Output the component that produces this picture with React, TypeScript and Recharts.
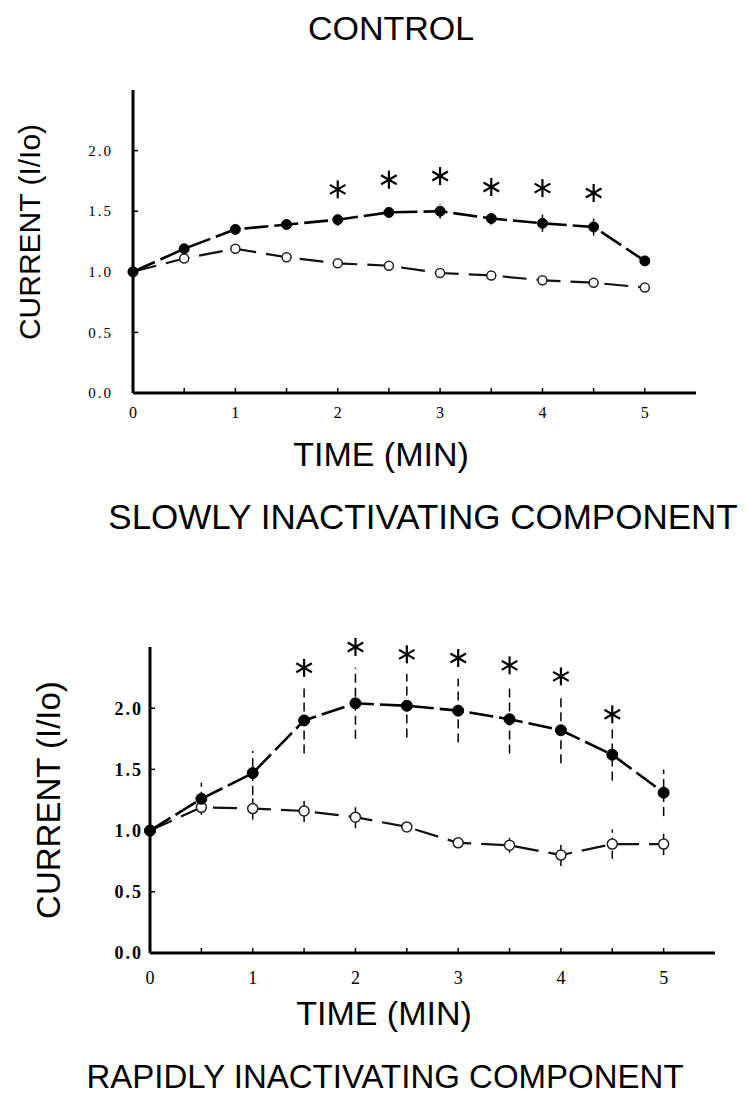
import React from 'react';
import { LineChart, Line, XAxis, YAxis, ErrorBar } from 'recharts';

// ---- data ----
const times = [0, 0.5, 1, 1.5, 2, 2.5, 3, 3.5, 4, 4.5, 5];
const xTicks = [0, 0.5, 1, 1.5, 2, 2.5, 3, 3.5, 4, 4.5, 5];
const yTicks = [0, 0.5, 1.0, 1.5, 2.0];

// Top panel: slowly inactivating component
const slowTreated = [1.0, 1.19, 1.35, 1.39, 1.43, 1.49, 1.5, 1.44, 1.4, 1.37, 1.09];
const slowTreatedErr = [0, 0.03, 0.03, 0.03, 0.05, 0.04, 0.06, 0.05, 0.07, 0.07, 0.03];
const slowControl = [1.0, 1.11, 1.19, 1.12, 1.07, 1.05, 0.99, 0.97, 0.93, 0.91, 0.87];
const slowControlErr = [0, 0.03, 0.03, 0.02, 0.02, 0.04, 0.02, 0.02, 0.03, 0.02, 0.02];
const slowStars = [null, null, null, null, 1.68, 1.76, 1.79, 1.7, 1.69, 1.65, null];

// Bottom panel: rapidly inactivating component
const rapidTreated = [1.0, 1.26, 1.47, 1.9, 2.04, 2.02, 1.98, 1.91, 1.82, 1.62, 1.31];
const rapidTreatedErr = [0, 0.13, 0.18, 0.27, 0.29, 0.26, 0.26, 0.28, 0.27, 0.21, 0.19];
const rapidControl = [1.0, 1.19, 1.18, 1.16, 1.11, 1.03, 0.9, 0.88, 0.8, 0.89, 0.89];
const rapidControlErr = [0, 0.05, 0.09, 0.09, 0.09, 0.03, 0.03, 0.06, 0.09, 0.12, 0.09];
const rapidStars = [null, null, null, 2.33, 2.5, 2.44, 2.41, 2.35, 2.26, 1.95, null];

const buildRows = (treated: number[], tErr: number[], control: number[], cErr: number[], stars: (number | null)[]) =>
  times.map((t, i) => ({
    t,
    treated: treated[i],
    treatedErr: tErr[i],
    control: control[i],
    controlErr: cErr[i],
    star: stars[i],
  }));

const slowRows = buildRows(slowTreated, slowTreatedErr, slowControl, slowControlErr, slowStars);
const rapidRows = buildRows(rapidTreated, rapidTreatedErr, rapidControl, rapidControlErr, rapidStars);

const SERIF = '"Liberation Serif", "DejaVu Serif", serif';
const SANS = '"Liberation Sans", Arial, sans-serif';

const filledDot = (r: number) => (p: any) => {
  if (p.cx == null || p.cy == null || p.value == null) return <g key={p.key ?? p.index} />;
  return <circle key={p.key ?? p.index} cx={p.cx} cy={p.cy} r={r} fill="#000" stroke="#000" />;
};
const openDot = (r: number) => (p: any) => {
  if (p.cx == null || p.cy == null || p.value == null) return <g key={p.key ?? p.index} />;
  return <circle key={p.key ?? p.index} cx={p.cx} cy={p.cy} r={r} fill="#fff" stroke="#222" strokeWidth={1.5} />;
};
const starDot = (p: any) => {
  if (p.cx == null || p.cy == null || p.value == null || isNaN(p.cy)) return <g key={p.key ?? p.index} />;
  const L = 9;
  const lines = [90, 30, 150].map((a) => {
    const rad = (a * Math.PI) / 180;
    const dx = Math.cos(rad) * L;
    const dy = Math.sin(rad) * L;
    return <line key={a} x1={p.cx - dx} y1={p.cy - dy} x2={p.cx + dx} y2={p.cy + dy} stroke="#000" strokeWidth={2.2} />;
  });
  return <g key={p.key ?? p.index}>{lines}</g>;
};

const makeXTick = (fs: number, dy: number) => (p: any) => {
  const v = p.payload.value;
  const isInt = Math.abs(v - Math.round(v)) < 1e-9;
  return (
    <g>
      <line x1={p.x} x2={p.x} y1={p.y} y2={p.y - 5} stroke="#000" strokeWidth={1.5} />
      {isInt && (
        <text x={p.x} y={p.y + dy} textAnchor="middle" fontFamily={SERIF} fontSize={fs} fill="#000">
          {String(v)}
        </text>
      )}
    </g>
  );
};
const makeYTick = (fs: number, gap: number, bold: boolean, spacing: number) => (p: any) => {
  const v = p.payload.value;
  return (
    <g>
      <line x1={p.x} x2={p.x + 5} y1={p.y} y2={p.y} stroke="#000" strokeWidth={1.5} />
      <text
        x={p.x - gap}
        y={p.y + fs * 0.35}
        textAnchor="end"
        fontFamily={SERIF}
        fontSize={fs}
        fontWeight={bold ? 'bold' : 'normal'}
        letterSpacing={spacing}
        fill="#000"
      >
        {v.toFixed(1)}
      </text>
    </g>
  );
};

type PanelProps = {
  rows: any[];
  top: number;
  margin: { top: number; right: number; bottom: number; left: number };
  xfs: number;
  xdy: number;
  yfs: number;
  ygap: number;
  ybold: boolean;
  yspace: number;
  dotR: number;
};

const Panel = ({ rows, top, margin, xfs, xdy, yfs, ygap, ybold, yspace, dotR }: PanelProps) => (
  <div style={{ position: 'absolute', left: 0, top, width: 749, height: 440 }}>
    <LineChart width={749} height={440} data={rows} margin={margin}>
      <XAxis
        dataKey="t"
        type="number"
        domain={[0, 5.5]}
        ticks={xTicks}
        interval={0}
        height={30}
        tickSize={0}
        tickMargin={0}
        tickLine={false}
        axisLine={{ stroke: '#000', strokeWidth: 3 }}
        tick={makeXTick(xfs, xdy)}
        allowDecimals
      />
      <YAxis
        type="number"
        domain={[0, 2.5]}
        ticks={yTicks}
        interval={0}
        width={60}
        tickSize={0}
        tickMargin={0}
        tickLine={false}
        axisLine={{ stroke: '#000', strokeWidth: 3 }}
        tick={makeYTick(yfs, ygap, ybold, yspace)}
      />
      <Line
        dataKey="control"
        stroke="#111"
        strokeWidth={2.2}
        strokeDasharray="24 10"
        dot={openDot(dotR - 0.5)}
        activeDot={false}
        isAnimationActive={false}
      >
        <ErrorBar dataKey="controlErr" direction="y" width={0} stroke="#000" strokeWidth={1.5} strokeDasharray="8 5" />
      </Line>
      <Line
        dataKey="treated"
        stroke="#000"
        strokeWidth={2.6}
        strokeDasharray="24 6"
        dot={filledDot(dotR)}
        activeDot={false}
        isAnimationActive={false}
      >
        <ErrorBar dataKey="treatedErr" direction="y" width={0} stroke="#000" strokeWidth={1.5} strokeDasharray="9 5" />
      </Line>
      <Line
        dataKey="star"
        stroke="none"
        dot={starDot}
        activeDot={false}
        isAnimationActive={false}
        legendType="none"
      />
    </LineChart>
  </div>
);

const textStyle = (x: number, y: number, fs: number, rotate = false): React.CSSProperties => ({
  position: 'absolute',
  left: x,
  top: y,
  transform: `translate(-50%, -50%)${rotate ? ' rotate(-90deg)' : ''}`,
  fontFamily: SANS,
  fontSize: fs,
  color: '#000',
  whiteSpace: 'nowrap',
  lineHeight: 1,
});

export default function App() {
  return (
    <div style={{ position: 'absolute', left: 0, top: 0, width: 749, height: 1099, background: '#fff', overflow: 'hidden' }}>
      <div style={textStyle(391, 28, 34)}>CONTROL</div>
      <Panel
        rows={slowRows}
        top={0}
        margin={{ top: 90, right: 53, bottom: 17, left: 73 }}
        xfs={16}
        xdy={25}
        yfs={15}
        ygap={20}
        ybold={false}
        yspace={2}
        dotR={5}
      />
      <div style={textStyle(30, 232, 30, true)}>CURRENT (I/Io)</div>
      <div style={textStyle(381, 454, 34)}>TIME (MIN)</div>
      <div style={textStyle(423, 516, 35)}>SLOWLY INACTIVATING COMPONENT</div>

      <Panel
        rows={rapidRows}
        top={560}
        margin={{ top: 87, right: 34, bottom: 17, left: 90 }}
        xfs={18}
        xdy={31}
        yfs={18}
        ygap={7}
        ybold={true}
        yspace={2}
        dotR={5.5}
      />
      <div style={textStyle(48, 800, 33, true)}>CURRENT (I/Io)</div>
      <div style={textStyle(384, 1013, 34)}>TIME (MIN)</div>
      <div style={textStyle(385, 1076, 33)}>RAPIDLY INACTIVATING COMPONENT</div>
    </div>
  );
}
